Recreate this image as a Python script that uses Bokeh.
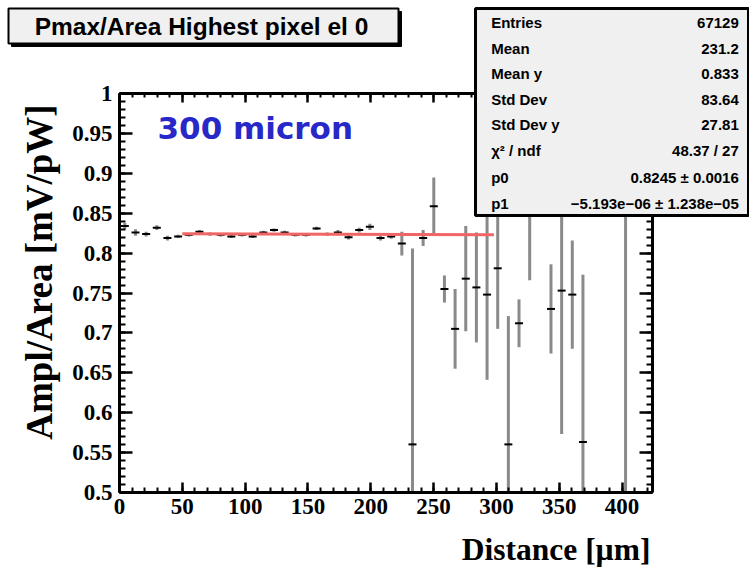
import math
from bokeh.plotting import figure
from bokeh.models import (Range1d, LinearAxis, FixedTicker, CustomJSTickFormatter,
                          BoxAnnotation, Label, ColumnDataSource)
from bokeh.embed import file_html
from bokeh.resources import INLINE

# ---------------- data ----------------
distance = [4.24, 12.72, 21.20, 29.68, 38.16, 46.64, 55.12, 63.60, 72.08, 80.56,
            89.04, 97.52, 106.00, 114.48, 122.96, 131.44, 139.92, 148.40, 156.88, 165.36,
            173.84, 182.32, 190.80, 199.28, 207.76, 216.24, 224.72, 233.20, 241.68, 250.16,
            258.64, 267.12, 275.60, 284.08, 292.56, 301.04, 309.52, 318.00, 326.48,
            343.44, 351.92, 360.40, 368.88, 402.80]
ratio = [0.834, 0.826, 0.824, 0.832, 0.819, 0.821, 0.823, 0.827, 0.824, 0.823,
         0.821, 0.823, 0.821, 0.826, 0.829, 0.826, 0.823, 0.823, 0.831, 0.824,
         0.826, 0.820, 0.829, 0.833, 0.819, 0.821, 0.812, 0.560, 0.819, 0.859,
         0.755, 0.705, 0.768, 0.757, 0.748, 0.781, 0.560, 0.712, 0.870,
         0.730, 0.753, 0.748, 0.563, 0.900]
ratio_err = [0.004, 0.004, 0.003, 0.003, 0.003, 0.002, 0.002, 0.002, 0.002, 0.002,
             0.002, 0.002, 0.002, 0.002, 0.002, 0.002, 0.002, 0.002, 0.002, 0.002,
             0.003, 0.003, 0.003, 0.004, 0.003, 0.003, 0.015, 0.246, 0.010, 0.036,
             0.017, 0.050, 0.066, 0.069, 0.107, 0.076, 0.161, 0.030, 0.104,
             0.056, 0.180, 0.068, 0.210, 0.420]

fit_p0 = 0.8245
fit_p1 = -5.193e-06
fit_range = [50.0, 298.0]

x_limits = [0.0, 424.0]
y_limits = [0.5, 1.0]
x_ticks = [0, 50, 100, 150, 200, 250, 300, 350, 400]
x_tick_labels = ["0", "50", "100", "150", "200", "250", "300", "350", "400"]
y_ticks = [0.5, 0.55, 0.6, 0.65, 0.7, 0.75, 0.8, 0.85, 0.9, 0.95, 1.0]
y_tick_labels = ["0.5", "0.55", "0.6", "0.65", "0.7", "0.75", "0.8", "0.85", "0.9", "0.95", "1"]

stat_names = ["Entries", "Mean", "Mean y", "Std Dev", "Std Dev y", "\u03c7\u00b2 / ndf", "p0", "p1"]
stat_values = ["67129", "231.2", "0.833", "83.64", "27.81", "48.37 / 27",
               "0.8245 \u00b1 0.0016", "\u22125.193e\u221206 \u00b1 1.238e\u221205"]

title_text = "Pmax/Area Highest pixel el 0"
note_text = "300 micron"
x_title = "Distance [\u00b5m]"
y_title = "Ampl/Area [mV/pW]"

# ---------------- layout (pixels) ----------------
W, H = 749, 572
FL, FR, FT, FB = 119.0, 651.7, 93.3, 491.7   # plot box edges in canvas px
sx = (FR - FL) / (x_limits[1] - x_limits[0])
sy = (FB - FT) / (y_limits[1] - y_limits[0])
xr = Range1d(x_limits[0] - FL / sx, x_limits[1] + (W - FR) / sx)
yr = Range1d(y_limits[0] - (H - FB) / sy, y_limits[1] + FT / sy)

p = figure(width=W, height=H, output_backend="svg", toolbar_location=None,
           x_range=xr, y_range=yr, min_border=0,
           x_axis_location=None, y_axis_location=None, title=None)
p.background_fill_color = "white"
p.border_fill_color = "white"
p.outline_line_color = None
p.xgrid.visible = False
p.ygrid.visible = False

TICK_FONT = "Liberation Serif"
x_minor = list(range(0, 430, 10))
y_minor = [round(0.5 + 0.01 * k, 2) for k in range(51)]

def make_axis(ticks, minor, bounds, loc, major_in, minor_in, overrides=None):
    ax = LinearAxis(ticker=FixedTicker(ticks=ticks, minor_ticks=minor),
                    bounds=tuple(bounds), fixed_location=loc)
    ax.axis_line_width = 3
    ax.axis_line_color = "black"
    ax.major_tick_line_width = 2.5
    ax.minor_tick_line_width = 2
    ax.major_tick_in = major_in
    ax.major_tick_out = 0
    ax.minor_tick_in = minor_in
    ax.minor_tick_out = 0
    ax.major_label_text_font = TICK_FONT
    ax.major_label_text_font_style = "bold"
    ax.major_label_text_font_size = "23px"
    ax.major_label_text_color = "black"
    ax.major_label_standoff = 7
    if overrides is None:
        ax.formatter = CustomJSTickFormatter(code="return ''")
    else:
        ax.major_label_overrides = overrides
    return ax

p.add_layout(make_axis(x_ticks, x_minor, x_limits, y_limits[0], 10, 5,
                       {t: s for t, s in zip(x_ticks, x_tick_labels)}), "below")
p.add_layout(make_axis(x_ticks, x_minor, x_limits, y_limits[1], 9, 4), "above")
p.add_layout(make_axis(y_ticks, y_minor, y_limits, x_limits[0], 13, 6,
                       {t: s for t, s in zip(y_ticks, y_tick_labels)}), "left")
p.add_layout(make_axis(y_ticks, y_minor, y_limits, x_limits[1], 13, 6), "right")

# ---------------- data marks ----------------
src = ColumnDataSource(dict(
    x=distance, y=ratio,
    lo=[max(v - e, y_limits[0]) for v, e in zip(ratio, ratio_err)],
    hi=[min(v + e, y_limits[1]) for v, e in zip(ratio, ratio_err)],
))
p.segment(x0="x", y0="lo", x1="x", y1="hi", source=src, line_color="#8a8a8a", line_width=3)
p.scatter(x="x", y="y", source=src, marker="dash", size=8, line_color="black", line_width=2)

fit_y = [fit_p0 + fit_p1 * xx for xx in fit_range]
p.line(x=fit_range, y=fit_y, line_color="#f26565", line_width=3)

# ---------------- decorations (canvas px) ----------------
def box(l, t, r, b, fill, lw):
    p.add_layout(BoxAnnotation(left=l, right=r, top=t, bottom=b,
                               left_units="canvas", right_units="canvas",
                               top_units="canvas", bottom_units="canvas",
                               fill_color=fill, fill_alpha=1.0,
                               line_color="black", line_alpha=1.0, line_width=lw))

def label(x, y, text, font, size, align, color="black", angle=0.0):
    p.add_layout(Label(x=x, y=y, x_units="canvas", y_units="canvas", text=text, angle=angle,
                       text_font=font, text_font_style="bold", text_font_size=size,
                       text_align=align, text_baseline="middle", text_color=color))

# title box
box(11, 11, 401, 46, "black", 1)
box(8, 8, 398, 43, "#f0f0f0", 2)
label(201, 25.5, title_text, "Liberation Sans", "24.5px", "center")

# stats box
box(475, 8, 748, 215, "#f0f0f0", 3)
row_y = [22.3, 48.3, 73.3, 99.3, 124.3, 150.0, 176.7, 202.7]
for name, val, ry in zip(stat_names, stat_values, row_y):
    label(490.7, ry, name, "Liberation Sans", "15px", "left")
    label(738.3, ry, val, "Liberation Sans", "15px", "right")

# "300 micron"
label(157, 127, note_text, "DejaVu Sans", "31px", "left", "#2828c8")

# axis titles
label(650, 549, x_title, "Liberation Serif", "31.5px", "right")
label(39, 271.5, y_title, "Liberation Serif", "37px", "center", angle=math.pi / 2)

open("out.html", "w").write(file_html(p, INLINE))
